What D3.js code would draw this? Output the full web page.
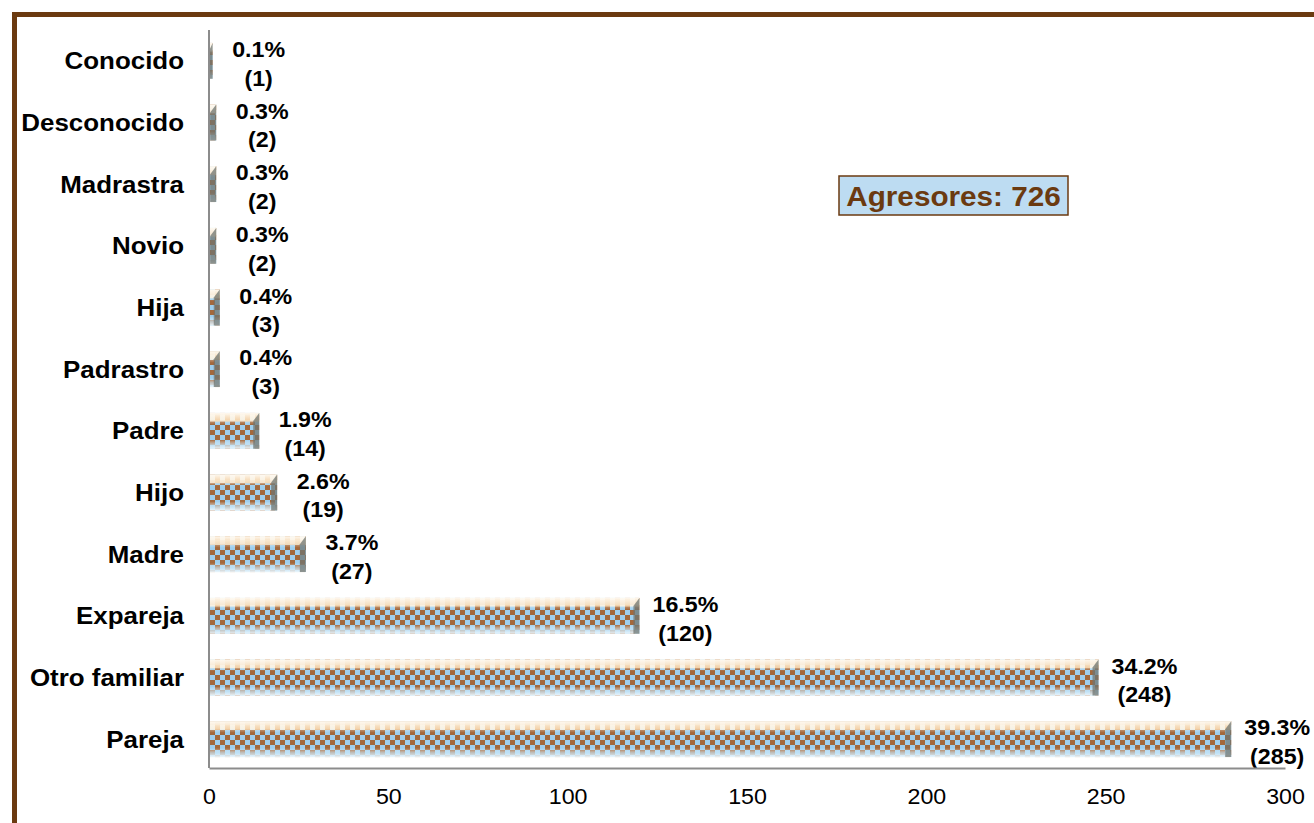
<!DOCTYPE html>
<html>
<head>
<meta charset="utf-8">
<script src="https://cdn.jsdelivr.net/npm/d3@7"></script>
<style>
  body { margin: 0; background: #fff; }
  svg { display: block; font-family: "Liberation Sans", Arial, sans-serif; }
</style>
</head>
<body>
<div id="chart"></div>
<script>
// data
const categories = ["Conocido", "Desconocido", "Madrastra", "Novio", "Hija", "Padrastro",
    "Padre", "Hijo", "Madre", "Expareja", "Otro familiar", "Pareja"];
const counts = [1, 2, 2, 2, 3, 3, 14, 19, 27, 120, 248, 285];
const percents = ["0.1%", "0.3%", "0.3%", "0.3%", "0.4%", "0.4%", "1.9%", "2.6%", "3.7%", "16.5%", "34.2%", "39.3%"];
const xTicks = [0, 50, 100, 150, 200, 250, 300];
const totalLabel = "Agresores: 726";

const rows = categories.map((c, i) => ({cat: c, value: counts[i], pct: percents[i]}));

let width = 1314, height = 823;
let margin = {top: 30, right: 29, bottom: 53, left: 209};
// the original picture is a bit stretched sideways, text too
const stretch = 1.08;

let svg = d3.select("#chart").append("svg")
    .attr("width", width)
    .attr("height", height);

let defs = svg.append("defs");

// checkered fill like the excel texture
let pat = defs.append("pattern")
    .attr("id", "checker")
    .attr("patternUnits", "userSpaceOnUse")
    .attr("width", 10).attr("height", 10);
pat.append("rect").attr("width", 10).attr("height", 10).attr("fill", "#9fcfee");
pat.append("rect").attr("width", 5).attr("height", 5).attr("fill", "#a3683c");
pat.append("rect").attr("x", 5).attr("y", 5).attr("width", 5).attr("height", 5).attr("fill", "#a3683c");

let dots = defs.append("pattern")
    .attr("id", "dots")
    .attr("patternUnits", "userSpaceOnUse")
    .attr("width", 10).attr("height", 10);
dots.append("rect").attr("width", 10).attr("height", 10).attr("fill", "#fff6e6");
dots.append("rect").attr("x", 5).attr("width", 5).attr("height", 10).attr("fill", "#f9cf9a");

let shade = defs.append("linearGradient")
    .attr("id", "shade")
    .attr("x1", 0).attr("y1", 0).attr("x2", 0).attr("y2", 1);
shade.append("stop").attr("offset", "0%").attr("stop-color", "#fffaf2").attr("stop-opacity", 0.95);
shade.append("stop").attr("offset", "22%").attr("stop-color", "#fff2de").attr("stop-opacity", 0.35);
shade.append("stop").attr("offset", "32%").attr("stop-color", "#ffffff").attr("stop-opacity", 0.0);
shade.append("stop").attr("offset", "75%").attr("stop-color", "#ffffff").attr("stop-opacity", 0.0);
shade.append("stop").attr("offset", "88%").attr("stop-color", "#c9e6f7").attr("stop-opacity", 0.7);
shade.append("stop").attr("offset", "100%").attr("stop-color", "#eef7fc").attr("stop-opacity", 0.95);

let x = d3.scaleLinear()
    .domain([0, 300])
    .range([margin.left, width - margin.right]);

let y = d3.scaleBand()
    .domain(categories)
    .range([margin.top, height - margin.bottom])
    .paddingInner(0.42)
    .paddingOuter(0.21);

// brown frame (only top and left visible)
svg.append("rect")
    .attr("x", 14.5).attr("y", 14.5)
    .attr("width", width + 20).attr("height", height + 20)
    .attr("fill", "none")
    .attr("stroke", "#6b3a10")
    .attr("stroke-width", 5);

// bars
let bars = svg.append("g").selectAll("g")
    .data(rows)
    .join("g");

bars.append("rect")
    .attr("x", x(0))
    .attr("y", d => y(d.cat))
    .attr("width", d => x(d.value) - x(0))
    .attr("height", y.bandwidth())
    .attr("fill", "url(#checker)");

bars.append("rect")
    .attr("x", x(0))
    .attr("y", d => y(d.cat))
    .attr("width", d => x(d.value) - x(0))
    .attr("height", y.bandwidth() * 0.24)
    .attr("fill", "url(#dots)")
    .attr("opacity", 0.85);

bars.append("rect")
    .attr("x", x(0))
    .attr("y", d => y(d.cat))
    .attr("width", d => x(d.value) - x(0))
    .attr("height", y.bandwidth())
    .attr("fill", "url(#shade)");

// little dark end cap on the right
bars.append("path")
    .attr("d", d => {
        let x1 = x(d.value), y0 = y(d.cat);
        let w = Math.min(6, x1 - x(0));
        return "M" + (x1 - w) + "," + (y0 + 8) + "L" + x1 + "," + y0 + "L" + x1 + "," + (y0 + y.bandwidth()) +
            "L" + (x1 - w) + "," + (y0 + y.bandwidth()) + "Z";
    })
    .attr("fill", "#6f7572")
    .attr("opacity", 0.75);

// value labels
let labels = svg.append("g")
    .attr("font-weight", "bold")
    .attr("font-size", 21.5)
    .attr("text-anchor", "middle")
    .selectAll("text")
    .data(rows)
    .join("text")
    .attr("transform", d => "translate(" + (x(d.value) + 46) + "," + (y(d.cat) + y.bandwidth() / 2) + ") scale(" + stretch + ",1)");

labels.append("tspan")
    .attr("x", 0)
    .attr("dy", -4)
    .text(d => d.pct);
labels.append("tspan")
    .attr("x", 0)
    .attr("dy", 29)
    .text(d => "(" + d.value + ")");

// category labels
svg.append("g")
    .attr("font-weight", "bold")
    .attr("font-size", 24)
    .attr("text-anchor", "end")
    .selectAll("text")
    .data(categories)
    .join("text")
    .attr("transform", d => "translate(184," + (y(d) + y.bandwidth() / 2) + ") scale(" + stretch + ",1)")
    .attr("dy", "0.35em")
    .text(d => d);

// axes
let xAxis = svg.append("g")
    .attr("transform", "translate(0," + (height - margin.bottom - 2) + ")")
    .call(d3.axisBottom(x).tickValues(xTicks).tickSize(0).tickPadding(21));
xAxis.select(".domain").attr("stroke", "#8c8c8c").attr("stroke-width", 2);
xAxis.selectAll(".tick text")
    .attr("font-size", 21.5)
    .attr("font-family", "Liberation Sans, Arial, sans-serif")
    .attr("fill", "#000")
    .attr("transform", "scale(" + stretch + ",1)");

svg.append("line")
    .attr("x1", x(0)).attr("x2", x(0))
    .attr("y1", margin.top).attr("y2", height - margin.bottom - 2)
    .attr("stroke", "#8c8c8c")
    .attr("stroke-width", 2);

// total box
let box = svg.append("g").attr("transform", "translate(839,176)");
box.append("rect")
    .attr("width", 229).attr("height", 39)
    .attr("fill", "#bddcf2")
    .attr("stroke", "#6b3a10")
    .attr("stroke-width", 1.5);
box.append("text")
    .attr("transform", "translate(114.5,20) scale(" + stretch + ",1)")
    .attr("dy", "0.35em")
    .attr("text-anchor", "middle")
    .attr("font-size", 27.5)
    .attr("font-weight", "bold")
    .attr("fill", "#6b3a10")
    .text(totalLabel);
</script>
</body>
</html>
